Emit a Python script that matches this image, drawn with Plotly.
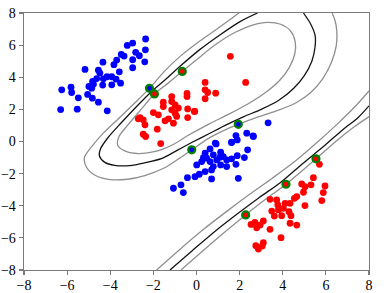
import plotly.graph_objects as go

# ---------------- data ----------------
blue_x = [-2.36, -2.96, -3.21, -2.37, -2.82, -3.49, -3.36, -2.65, -3.70, -2.96, -2.40, -3.83, -4.34, -5.17,
          -2.96, -4.55, -4.48, -3.58, -4.15, -3.93, -3.73, -4.32, -4.63, -4.82, -3.52, -3.93, -4.78, -4.99,
          -4.35, -4.86, -6.25, -5.82, -5.79, -5.48, -5.05, -4.83, -4.55, -6.30, -5.53, -4.14, -2.18,
          -0.22, 1.94, 2.33, 2.64, 1.83, 1.89, 1.63, 0.91, 0.63, 0.40, 0.78, 1.12, 1.24, 0.47, 0.63, 0.94,
          1.40, 1.89, 1.63, 2.37, 2.22, 1.83, 1.40, 1.12, 0.78, 0.70, 0.01, 0.40, 0.13, -0.07, -0.42, 0.70,
          1.94, -0.72, -1.07, -0.61, 0.32, 0.24, 1.09, 3.32, 2.62, 0.87, 1.62]
blue_y = [6.38, 6.13, 5.98, 5.71, 5.55, 5.42, 5.32, 5.34, 5.07, 5.09, 4.96, 4.78, 4.94, 4.49,
          4.59, 4.44, 4.26, 4.34, 4.03, 4.03, 3.88, 3.90, 3.92, 3.74, 3.63, 3.53, 3.57, 3.43,
          3.51, 3.32, 3.22, 3.38, 3.05, 2.72, 2.93, 2.70, 2.45, 1.99, 2.01, 1.91, 3.31,
          -0.52, 1.07, 0.52, 0.31, 0.37, 0.10, -0.04, -0.15, -0.46, -0.73, -0.83, -0.67, -0.94, -1.04, -1.25,
          -1.15, -1.15, -0.88, -1.08, -0.52, -1.00, -1.42, -1.56, -1.46, -1.56, -1.77, -1.46, -1.87, -2.04,
          -2.19, -2.25, -2.33, -2.29, -2.70, -2.91, -3.18, -1.00, -1.25, -0.98, 1.16, 0.35, -0.10, -0.07]

red_x = [1.57, -0.66, -1.95, 0.40, 0.40, 0.40, 0.89, 2.28, -0.44, -0.44, -1.15, -1.15, -1.54, -0.99, -1.54,
         -0.84, -0.41, -0.10, -1.15, -2.00, -1.77, -0.99, -0.92, -0.41, -1.30, -1.46, -2.62, -2.47, -2.70,
         -2.39, -1.07, -1.82, -2.47, -2.36, -1.66, 0.52, -0.08,
         5.54, 5.70, 4.15, 2.28, 5.42, 4.88, 5.31, 5.03, 5.96, 5.88, 4.96, 4.65, 4.54, 5.81, 5.03, 3.41,
         3.72, 3.77, 4.11, 4.34, 4.03, 3.80, 3.49, 4.29, 3.61, 3.95, 4.38, 4.34, 4.65, 3.10, 2.71, 2.53,
         2.95, 2.79, 3.41, 3.92, 2.75, 2.87, 3.10, 3.05]
red_y = [5.30, 4.36, 2.96, 3.68, 3.22, 2.66, 3.01, 3.68, 2.99, 2.80, 2.80, 2.49, 2.45, 2.28, 2.18,
         2.08, 2.03, 1.87, 1.97, 1.80, 1.66, 1.76, 1.56, 1.49, 1.41, 1.29, 1.49, 1.35, 1.41,
         1.04, 1.14, 0.77, 0.45, 0.31, -0.13, 3.05, 1.87,
         -1.08, -1.42, -2.66, -4.57, -2.25, -2.64, -2.70, -2.81, -2.77, -3.18, -3.16, -3.43, -3.54, -3.68,
         -3.99, -3.60, -3.64, -3.95, -3.85, -3.85, -4.16, -4.26, -4.33, -4.37, -4.64, -4.62, -4.62, -5.09,
         -5.20, -4.95, -5.03, -5.16, -5.20, -5.37, -5.47, -5.99, -6.49, -6.70, -6.30, -6.51]

# support vectors (circled in green)
sv_x = [-2.18, -0.22, 1.94, -1.95, -0.66, 2.28, 4.15, 5.54]
sv_y = [3.31, -0.52, 1.07, 2.96, 4.36, -4.57, -2.66, -1.08]

# decision-function level lines (level -1 / 0 / +1)
loop_m1_x = [1.97, 1.0, 0.0, -0.76, -1.5, -2.18, -2.9, -3.6, -4.3, -4.85, -5.2, -5.1, -4.7, -4.0, -3.2,
             -2.4, -1.5, -0.8, -0.22, 0.5, 1.2, 1.94, 2.8, 3.7, 4.6, 5.3, 5.85, 6.25, 6.48, 6.5, 6.42, 6.29]
loop_m1_y = [8.0, 7.05, 6.1, 5.3, 4.35, 3.31, 2.35, 1.45, 0.55, -0.3, -1.0, -1.6, -2.1, -2.37, -2.35,
             -2.12, -1.65, -1.05, -0.52, 0.15, 0.65, 1.07, 1.5, 1.9, 2.4, 3.05, 3.9, 4.9, 5.95, 6.96, 7.55, 8.0]
loop_0_x = [2.83, 2.0, 1.1, 0.15, -0.75, -1.45, -2.07, -2.8, -3.5, -4.1, -4.45, -4.5, -4.25, -3.8, -3.1,
            -2.4, -1.6, -0.9, -0.2, 0.6, 1.4, 2.2, 3.0, 3.8, 4.5, 5.0, 5.35, 5.5, 5.5, 5.3, 4.96]
loop_0_y = [8.0, 7.45, 6.65, 5.72, 4.7, 3.85, 3.13, 2.15, 1.15, 0.25, -0.45, -0.9, -1.3, -1.48, -1.5,
            -1.33, -1.05, -0.55, -0.05, 0.5, 1.05, 1.55, 2.0, 2.55, 3.3, 4.1, 5.0, 5.9, 6.6, 7.3, 8.0]
loop_p1_x = [-1.95, -1.3, -0.66, 0.1, 0.9, 1.8, 2.6, 3.3, 3.9, 4.35, 4.58, 4.55, 4.3, 3.85, 3.2, 2.4,
             1.5, 0.6, -0.3, -1.1, -1.9, -2.7, -3.3, -3.65, -3.6, -3.2, -2.6, -1.95]
loop_p1_y = [2.96, 3.65, 4.36, 5.2, 6.05, 6.8, 7.25, 7.42, 7.3, 6.9, 6.2, 5.4, 4.6, 3.8, 3.05, 2.35,
             1.7, 1.1, 0.45, -0.2, -0.62, -0.75, -0.6, -0.25, 0.3, 1.0, 1.95, 2.96]

band_m1_x = [-1.85, -0.8, 0.3, 1.4, 2.45, 3.5, 4.6, 5.6, 6.5, 7.3, 8.0]
band_m1_y = [-8.0, -6.75, -5.5, -4.35, -3.3, -2.3, -1.2, -0.05, 1.05, 2.1, 3.15]
band_0_x = [-1.23, -0.2, 0.85, 1.9, 2.9, 3.9, 4.9, 5.9, 6.8, 7.5, 8.0]
band_0_y = [-8.0, -6.8, -5.6, -4.5, -3.5, -2.55, -1.4, -0.3, 0.75, 1.5, 2.22]
band_p1_x = [-0.72, 0.3, 1.3, 2.28, 3.2, 4.15, 5.54, 6.5, 7.3, 8.0]
band_p1_y = [-8.0, -6.8, -5.65, -4.57, -3.6, -2.66, -1.08, 0.05, 0.9, 1.55]

tick_vals = [-8, -6, -4, -2, 0, 2, 4, 6, 8]
axis_range = [-8, 8]

# ---------------- figure ----------------
fig = go.Figure()
gray_line = dict(color='#8f8f8f', width=1.3, shape='spline', smoothing=0.8)
black_line = dict(color='#141414', width=1.3, shape='spline', smoothing=0.8)
for xs, ys, ln in [(loop_m1_x, loop_m1_y, gray_line), (loop_p1_x, loop_p1_y, gray_line),
                   (band_m1_x, band_m1_y, gray_line), (band_p1_x, band_p1_y, gray_line),
                   (loop_0_x, loop_0_y, black_line), (band_0_x, band_0_y, black_line)]:
    fig.add_trace(go.Scatter(x=xs, y=ys, mode='lines', line=ln, hoverinfo='skip'))

fig.add_trace(go.Scatter(x=blue_x, y=blue_y, mode='markers',
                         marker=dict(color='#0000ff', size=6.8, line=dict(width=0))))
fig.add_trace(go.Scatter(x=red_x, y=red_y, mode='markers',
                         marker=dict(color='#ff0000', size=6.8, line=dict(width=0))))
fig.add_trace(go.Scatter(x=sv_x, y=sv_y, mode='markers',
                         marker=dict(symbol='circle-open', color='#008000', size=7,
                                     line=dict(width=2.2, color='#008000'))))

serif = '"Liberation Serif", "Times New Roman", Times, serif'
axis_common = dict(range=axis_range, tickvals=tick_vals, showgrid=False, zeroline=False,
                   showline=True, mirror=True, linecolor='#7a7a7a', linewidth=1.4,
                   ticks='outside', ticklen=4, tickwidth=1.2, tickcolor='#7a7a7a',
                   automargin=False,
                   tickfont=dict(family=serif, size=14, color='black'))
fig.update_xaxes(**axis_common, ticklabelstandoff=-2)
fig.update_yaxes(**axis_common)
fig.update_layout(width=384, height=293, margin=dict(l=24, r=15, t=13, b=23),
                  font=dict(family=serif),
                  plot_bgcolor='white', paper_bgcolor='white', showlegend=False)
fig.write_html("out.html", config={'displayModeBar': False, 'staticPlot': True},
               post_script="document.body.style.margin='0px';document.body.style.padding='0px';"
                           "document.body.style.overflow='hidden';")
